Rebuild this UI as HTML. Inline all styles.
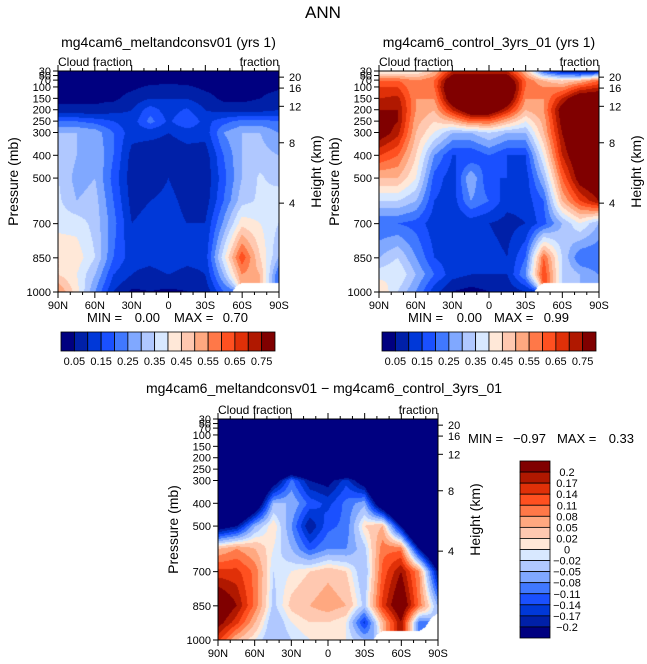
<!DOCTYPE html>
<html><head><meta charset="utf-8">
<style>
body{margin:0;background:#fff;width:647px;height:664px;overflow:hidden;position:relative;font-family:"Liberation Sans",sans-serif}
canvas{position:absolute}
svg{position:absolute;left:0;top:0}
text{font-family:"Liberation Sans",sans-serif;fill:#000}
</style></head>
<body>
<canvas id="c1" width="221" height="221" style="left:58px;top:71px"></canvas>
<canvas id="c2" width="220" height="221" style="left:379px;top:71px"></canvas>
<canvas id="c3" width="220" height="221" style="left:218px;top:419px"></canvas>
<svg id="s" width="647" height="664"></svg>
<script>
const lats=[90,75,60,45,30,15,0,-15,-30,-45,-60,-75,-90];
const levels=[30,70,100,150,200,250,300,400,500,600,700,850,925,1000];
const N=null;
const vals1=[
[.02,.02,.02,.02,.02,.02,.02,.02,.02,.02,.02,.02,.02],
[.02,.02,.02,.02,.02,.03,.03,.03,.02,.02,.02,.02,.02],
[.03,.03,.03,.03,.04,.06,.07,.06,.04,.03,.03,.03,.04],
[.04,.04,.04,.04,.07,.1,.1,.1,.07,.04,.04,.05,.08],
[.06,.06,.06,.08,.1,.18,.12,.16,.1,.08,.07,.08,.1],
[.2,.2,.18,.15,.12,.22,.14,.2,.13,.18,.22,.22,.2],
[.3,.3,.28,.2,.12,.12,.1,.12,.12,.25,.3,.3,.25],
[.35,.3,.3,.2,.08,.06,.07,.08,.07,.2,.3,.32,.3],
[.35,.28,.3,.18,.07,.06,.1,.06,.06,.18,.3,.36,.32],
[.36,.3,.32,.2,.08,.1,.12,.08,.07,.2,.33,.36,.4],
[.38,.38,.33,.22,.1,.12,.13,.1,.1,.26,.43,.4,.35],
[.45,.43,.35,.2,.12,.12,.14,.12,.12,.38,.64,.45,.3],
[.45,.4,.3,.15,.1,.08,.1,.08,.1,.3,.55,.5,.2],
[.55,.42,.25,.1,.04,.05,.04,.05,.06,.2,N,N,N]];
const vals2=[
[.4,.4,.4,.5,.7,.7,.7,.7,.5,.2,.1,.05,.1],
[.6,.6,.55,.6,.85,.9,.9,.85,.6,.5,.45,.5,.6],
[.65,.65,.55,.6,.9,.95,.95,.9,.6,.55,.55,.65,.7],
[.7,.72,.55,.55,.85,.95,.95,.85,.55,.55,.7,.85,.85],
[.75,.75,.55,.5,.7,.85,.85,.7,.5,.55,.8,.9,.9],
[.8,.75,.52,.45,.5,.6,.6,.5,.4,.52,.78,.9,.9],
[.8,.72,.5,.4,.3,.3,.35,.3,.3,.5,.75,.9,.9],
[.65,.6,.45,.25,.15,.15,.2,.15,.15,.4,.7,.85,.9],
[.5,.5,.4,.18,.12,.3,.15,.15,.12,.3,.6,.8,.85],
[.35,.35,.3,.15,.12,.25,.2,.12,.12,.2,.5,.65,.75],
[.2,.2,.18,.12,.1,.12,.1,.08,.1,.18,.3,.4,.3],
[.3,.35,.25,.15,.12,.12,.12,.1,.2,.6,.35,.2,.2],
[.38,.4,.3,.2,.12,.1,.1,.1,.25,.65,.35,.3,.25],
[.45,.35,.25,.12,.05,.03,.05,.06,.1,N,N,N,N]];
const vals3=[
[-.5,-.5,-.5,-.5,-.5,-.5,-.5,-.5,-.5,-.5,-.4,-.4,-.5],
[-.5,-.5,-.5,-.5,-.5,-.5,-.5,-.5,-.5,-.5,-.5,-.5,-.5],
[-.5,-.5,-.5,-.5,-.5,-.5,-.5,-.5,-.5,-.5,-.5,-.5,-.5],
[-.5,-.5,-.5,-.5,-.5,-.5,-.5,-.5,-.5,-.5,-.5,-.5,-.5],
[-.6,-.6,-.6,-.55,-.5,-.5,-.5,-.5,-.5,-.55,-.6,-.6,-.6],
[-.6,-.6,-.5,-.4,-.3,-.35,-.45,-.35,-.3,-.45,-.6,-.6,-.6],
[-.5,-.5,-.4,-.25,-.1,-.2,-.22,-.15,-.25,-.5,-.5,-.6,-.6],
[-.5,-.45,-.3,-.05,-.05,-.12,-.15,-.1,-.06,-.3,-.5,-.6,-.6],
[-.25,-.2,-.05,.02,-.08,-.2,-.12,-.1,.02,.05,-.2,-.5,-.5],
[.05,.08,.05,0,-.05,-.12,-.08,-.08,-.03,.1,.1,-.2,-.4],
[.15,.15,.1,-.02,0,.02,.04,.02,-.05,.12,.2,.08,-.2],
[.26,.2,.1,-.03,.03,.05,.07,.05,-.03,.15,.26,.1,-.05],
[.22,.15,.05,-.05,0,.02,.02,0,-.15,.05,.2,-.1,N],
[.15,.05,0,-.05,-.02,0,.01,0,-.05,N,N,N,N]];
const bounds1=[.05,.1,.15,.2,.25,.3,.35,.4,.45,.5,.55,.6,.65,.7,.75];
const bounds3=[-.2,-.17,-.14,-.11,-.08,-.05,-.02,0,.02,.05,.08,.11,.14,.17,.2];
const labels1=["0.05","0.15","0.25","0.35","0.45","0.55","0.65","0.75"];
const labels3=["0.2","0.17","0.14","0.11","0.08","0.05","0.02","0","\u22120.02","\u22120.05","\u22120.08","\u22120.11","\u22120.14","\u22120.17","\u22120.2"];
const presTicks=[30,50,70,100,150,200,250,300,400,500,700,850,1000];
const hTicks=[[20,57],[16,105],[12,185],[8,345],[4,610]];
const latTicks=["90N","60N","30N","0","30S","60S","90S"];
const colors=["#000080","#0020a8","#0038d8","#1a50ff","#4078ff","#80a8ff","#b0c8ff","#d8e8ff","#ffe8d8","#ffc8b0","#ffa880","#ff7848","#ff5020","#e03008","#b01800","#800000"];

function yFrac(p){return (p-30)/970;}
function hexRGB(h){return [parseInt(h.substr(1,2),16),parseInt(h.substr(3,2),16),parseInt(h.substr(5,2),16)];}
const rgb=colors.map(hexRGB);
function level(v,b){let i=0;while(i<b.length&&v>=b[i])i++;return i;}
function drawField(id,vals,b){
  const cv=document.getElementById(id),ctx=cv.getContext('2d');
  const W=cv.width,H=cv.height,img=ctx.createImageData(W,H);
  const ry=levels.map(p=>yFrac(p)*(H-1));
  for(let y=0;y<H;y++){
    let j=0;while(j<levels.length-2&&y>ry[j+1])j++;
    const ty=Math.min(1,Math.max(0,(y-ry[j])/(ry[j+1]-ry[j])));
    for(let x=0;x<W;x++){
      const fx=x/(W-1)*(lats.length-1);let i=Math.min(lats.length-2,Math.floor(fx));const tx=fx-i;
      const a=vals[j][i],bb=vals[j][i+1],c=vals[j+1][i],d=vals[j+1][i+1];
      const k=(y*W+x)*4;let col=[255,255,255];
      const cs=[[a,(1-tx)*(1-ty)],[bb,tx*(1-ty)],[c,(1-tx)*ty],[d,tx*ty]];
      let s=0,w=0,nullw=0;
      cs.forEach(([v,ww])=>{if(v===null)nullw+=ww;else{s+=v*ww;w+=ww;}});
      if(nullw<0.5&&w>0){col=rgb[level(s/w,b)];}
      img.data[k]=col[0];img.data[k+1]=col[1];img.data[k+2]=col[2];img.data[k+3]=255;
    }
  }
  ctx.putImageData(img,0,0);
}
drawField('c1',vals1,bounds1);
drawField('c2',vals2,bounds1);
drawField('c3',vals3,bounds3);

const S=document.getElementById('s'),NS="http://www.w3.org/2000/svg";
function el(t,at,txt){const e=document.createElementNS(NS,t);for(const k in at)e.setAttribute(k,at[k]);if(txt!==undefined)e.textContent=txt;S.appendChild(e);return e;}
function txt(x,y,s,size,anchor,name,rot){const e=el('text',{x:x,y:y,'font-size':size,'text-anchor':anchor||'start'},s);
  if(rot)e.setAttribute('transform','rotate(-90 '+x+' '+y+')');
  
  return e;}

function axes(x0,y0,W,H,title,tag){
  const r=el('rect',{x:x0,y:y0,width:W,height:H,fill:'none',stroke:'#000','stroke-width':1});
  
  
  txt(x0,y0-5,"Cloud fraction",12,'start',tag+'-left-subtitle');
  txt(x0+W,y0-5,"fraction",12,'end',tag+'-right-subtitle');
  if(title){txt(x0+W/2,y0-24,title,14,'middle',tag+'-title');}
  presTicks.forEach(p=>{const y=y0+yFrac(p)*H;
    const t=el('line',{x1:x0-5,x2:x0,y1:y,y2:y,stroke:'#000'});
    
    
    txt(x0-7,y+4,String(p),11,'end','pressure-tick-label');});
  hTicks.forEach(h=>{const y=y0+yFrac(h[1])*H;
    const t=el('line',{x1:x0+W,x2:x0+W+5,y1:y,y2:y,stroke:'#000'});
    
    
    txt(x0+W+10,y+4,String(h[0]),11,'start','height-tick-label');});
  latTicks.forEach((l,i)=>{const x=x0+i*W/6;
    const t=el('line',{x1:x,x2:x,y1:y0+H,y2:y0+H+6,stroke:'#000'});
    
    
    const t2=el('line',{x1:x,x2:x,y1:y0,y2:y0-6,stroke:'#000'});
    
    
    txt(x,y0+H+17,l,11,'middle','latitude-tick-label');});
  for(let i=0;i<=18;i++){if(i%3===0)continue;const x=x0+i*W/18;
    const m=el('line',{x1:x,x2:x,y1:y0+H,y2:y0+H+3,stroke:'#000'});
    
    
    const m2=el('line',{x1:x,x2:x,y1:y0,y2:y0-3,stroke:'#000'});
    
    }
  txt(x0-40,y0+H/2,"Pressure (mb)",14,'middle',tag+'-y-axis-title',true);
  txt(x0+W+42,y0+H/2-10,"Height (km)",14,'middle',tag+'-y2-axis-title',true);
}
txt(323,18,"ANN",17,'middle','main-title');
axes(58,71,221,221,"mg4cam6_meltandconsv01 (yrs 1)",'panel1');
axes(379,71,220,221,"mg4cam6_control_3yrs_01 (yrs 1)",'panel2');
axes(218,419,220,221,null,'panel3');
txt(324,393,"mg4cam6_meltandconsv01 \u2212 mg4cam6_control_3yrs_01",14,'middle','diff-title');
txt(87,322,"MIN =",13,'start','panel1-min-label');txt(160,322,"0.00",13,'end','panel1-min');
txt(174,322,"MAX =",13,'start','panel1-max-label');txt(248,322,"0.70",13,'end','panel1-max');
txt(408,322,"MIN =",13,'start','panel2-min-label');txt(482,322,"0.00",13,'end','panel2-min');
txt(494,322,"MAX =",13,'start','panel2-max-label');txt(569,322,"0.99",13,'end','panel2-max');
txt(468,443,"MIN =",13,'start','diff-min-label');txt(546,443,"\u22120.97",13,'end','diff-min');
txt(557,443,"MAX =",13,'start','diff-max-label');txt(634,443,"0.33",13,'end','diff-max');

function hbar(x0,y0,W,H,tag){const bw=W/16;
  colors.forEach((c,i)=>{const r=el('rect',{x:x0+i*bw,y:y0,width:bw,height:H,fill:c,stroke:'#000','stroke-width':0.8});
    
    });
  labels1.forEach((l,i)=>{txt(x0+(1+2*i)*bw,y0+H+14,l,11,'middle',tag+'-label');});}
hbar(61,332,214,19,'colorbar1');
hbar(382,332,214,19,'colorbar2');
(function(){const x0=520,y0=461,W=30,H=177,bh=H/16;
  colors.slice().reverse().forEach((c,i)=>{const r=el('rect',{x:x0,y:y0+i*bh,width:W,height:bh,fill:c,stroke:'#000','stroke-width':0.8});
    
    });
  labels3.forEach((l,i)=>{txt(x0+W+17,y0+(i+1)*bh+4,l,11,'middle','colorbar3-label');});})();
</script>
</body></html>
